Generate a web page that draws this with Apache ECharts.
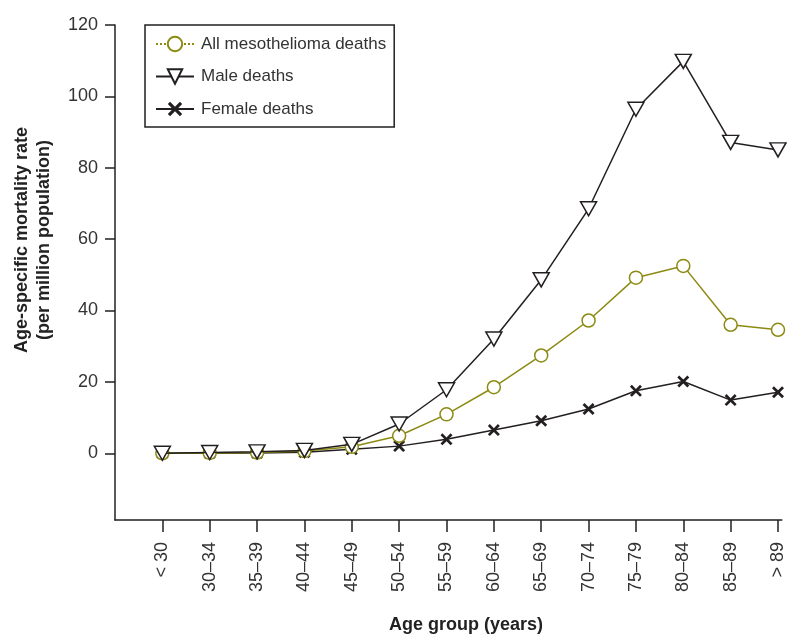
<!DOCTYPE html>
<html>
<head>
<meta charset="utf-8">
<script src="https://cdn.jsdelivr.net/npm/echarts@6/dist/echarts.min.js"></script>
<style>
html,body{margin:0;padding:0;background:#fff;}
#c{width:787px;height:635px;}
</style>
</head>
<body>
<div id="c"></div>
<script>
var categories = ['< 30','30–34','35–39','40–44','45–49','50–54','55–59','60–64','65–69','70–74','75–79','80–84','85–89','> 89'];
var allDeaths = [0.0, 0.1, 0.2, 0.6, 1.8, 4.9, 10.9, 18.5, 27.4, 37.2, 49.2, 52.5, 36.0, 34.6];
var maleDeaths = [0.0, 0.2, 0.4, 0.8, 2.5, 8.2, 17.8, 32.0, 48.6, 68.5, 96.4, 109.8, 87.1, 85.0];
var femaleDeaths = [0.0, 0.0, 0.1, 0.3, 1.1, 2.0, 3.9, 6.5, 9.1, 12.4, 17.5, 20.1, 14.9, 17.1];
var yTicks = [0, 20, 40, 60, 80, 100, 120];
var seriesNames = ['All mesothelioma deaths', 'Male deaths', 'Female deaths'];

var OLIVE = '#8c8a12';
var DARK = '#231f20';
var FONT = "'Liberation Sans', Arial, sans-serif";
var xIdx = categories.map(function (c, i) { return i; });
function pairs(arr) { return arr.map(function (v, i) { return [i, v]; }); }
var XPATH = 'path://M0,1.6 L1.6,0 L5,3.4 L8.4,0 L10,1.6 L6.6,5 L10,8.4 L8.4,10 L5,6.6 L1.6,10 L0,8.4 L3.4,5 Z';

var chart = echarts.init(document.getElementById('c'), null, {renderer: 'canvas'});
chart.setOption({
  animation: false,
  backgroundColor: '#fff',
  grid: {left: 115, right: 0, top: 25, bottom: 115, containLabel: false},
  xAxis: {
    type: 'value', min: -1, max: 13.08,
    splitLine: {show: false},
    axisLine: {show: true, onZero: false, lineStyle: {color: DARK, width: 1.5}},
    axisTick: {show: true, length: 12, lineStyle: {color: DARK, width: 1.5}, customValues: xIdx},
    axisLabel: {
      customValues: xIdx, rotate: 90, margin: 22, fontSize: 18, color: '#333', fontFamily: FONT,
      formatter: function (v) { return categories[Math.round(v)]; }
    }
  },
  yAxis: {
    type: 'value', min: -18.7, max: 120,
    splitLine: {show: false},
    axisLine: {show: true, onZero: false, lineStyle: {color: DARK, width: 1.5}},
    axisTick: {show: true, length: 10, lineStyle: {color: DARK, width: 1.5}, customValues: yTicks},
    axisLabel: {customValues: yTicks, margin: 17, fontSize: 18, color: '#333', fontFamily: FONT}
  },
  legend: {
    orient: 'vertical', left: 145, top: 25,
    padding: [10, 8, 9, 10],
    itemWidth: 38, itemHeight: 18, itemGap: 14.5,
    borderColor: DARK, borderWidth: 1.5,
    textStyle: {fontSize: 17, color: '#333', fontFamily: FONT, lineHeight: 18, padding: [0, 0, 0, 2]},
    data: [
      {name: seriesNames[0], lineStyle: {type: 'dotted'}},
      {name: seriesNames[1]},
      {name: seriesNames[2]}
    ]
  },
  series: [
    {
      name: seriesNames[2], type: 'line', data: pairs(femaleDeaths), clip: false,
      symbol: XPATH, symbolSize: [12, 12],
      itemStyle: {color: DARK, borderWidth: 0},
      lineStyle: {color: DARK, width: 1.5}, z: 2
    },
    {
      name: seriesNames[0], type: 'line', data: pairs(allDeaths), clip: false,
      symbol: 'circle', symbolSize: 13,
      itemStyle: {color: '#fff', borderColor: OLIVE, borderWidth: 1.5},
      lineStyle: {color: OLIVE, width: 1.5}, z: 3
    },
    {
      name: seriesNames[1], type: 'line', data: pairs(maleDeaths), clip: false,
      symbol: 'triangle', symbolRotate: 180, symbolSize: [16, 14],
      itemStyle: {color: '#fff', borderColor: DARK, borderWidth: 1.5},
      lineStyle: {color: DARK, width: 1.5}, z: 4
    }
  ],
  graphic: [
    {
      type: 'text', x: 33, y: 240, rotation: Math.PI / 2,
      style: {
        text: 'Age-specific mortality rate\n(per million population)',
        fontSize: 18, fontWeight: 'bold', fontFamily: FONT, fill: '#222',
        align: 'center', verticalAlign: 'middle', lineHeight: 22
      }
    },
    {
      type: 'text', x: 466, y: 625,
      style: {
        text: 'Age group (years)',
        fontSize: 18, fontWeight: 'bold', fontFamily: FONT, fill: '#222',
        align: 'center', verticalAlign: 'middle'
      }
    }
  ]
});
</script>
</body>
</html>
